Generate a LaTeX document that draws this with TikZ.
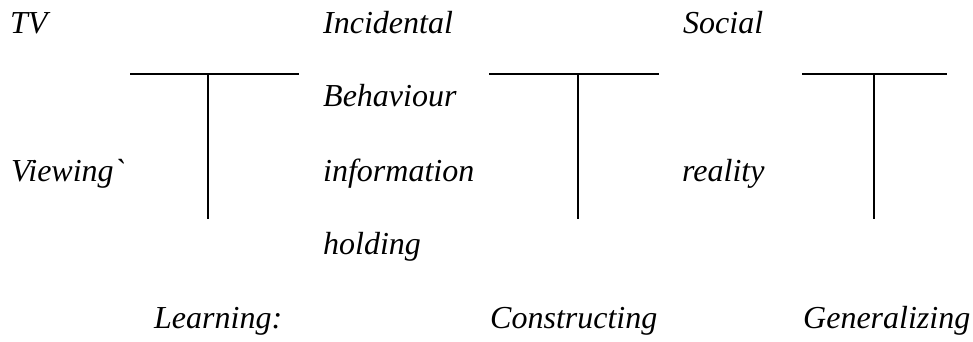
\documentclass[tikz,border=0pt]{standalone}
\usepackage{fontspec}
\setmainfont{Liberation Serif}
\newfontfamily\rawserif{Liberation Serif}
\begin{document}
\begin{tikzpicture}[x=1pt,y=-1pt,
  lbl/.style={anchor=base west,inner sep=0pt,font=\fontsize{32}{32}\selectfont\itshape},
  bar/.style={line width=1.8pt,line cap=butt}]
\useasboundingbox (0,0) rectangle (973,341);
% text
\node[lbl] (tv) at (10,33) {TV};
\node[lbl] (view) at (11,181) {Viewing{\rawserif\itshape\char"60}};
\node[lbl] (learn) at (154,328) {Learning:};
\node[lbl] (inc) at (323,33) {Incidental};
\node[lbl] (beh) at (323,106) {Behaviour};
\node[lbl] (info) at (323,181) {information};
\node[lbl] (hold) at (323,254) {holding};
\node[lbl] (soc) at (683,33) {Social};
\node[lbl] (real) at (682,181) {reality};
\node[lbl] (cons) at (490,328) {Constructing};
\node[lbl] (gen) at (803,328) {Generalizing};
% T shapes
\coordinate (t1l) at (130,74); \coordinate (t1r) at (299,74);
\coordinate (t1t) at (208,74); \coordinate (t1b) at (208,219);
\coordinate (t2l) at (489,74); \coordinate (t2r) at (659,74);
\coordinate (t2t) at (578,74); \coordinate (t2b) at (578,219);
\coordinate (t3l) at (802,74); \coordinate (t3r) at (947,74);
\coordinate (t3t) at (874,74); \coordinate (t3b) at (874,219);
\draw[bar] (t1l) -- (t1r); \draw[bar] (t1t) -- (t1b);
\draw[bar] (t2l) -- (t2r); \draw[bar] (t2t) -- (t2b);
\draw[bar] (t3l) -- (t3r); \draw[bar] (t3t) -- (t3b);
\end{tikzpicture}
\end{document}
